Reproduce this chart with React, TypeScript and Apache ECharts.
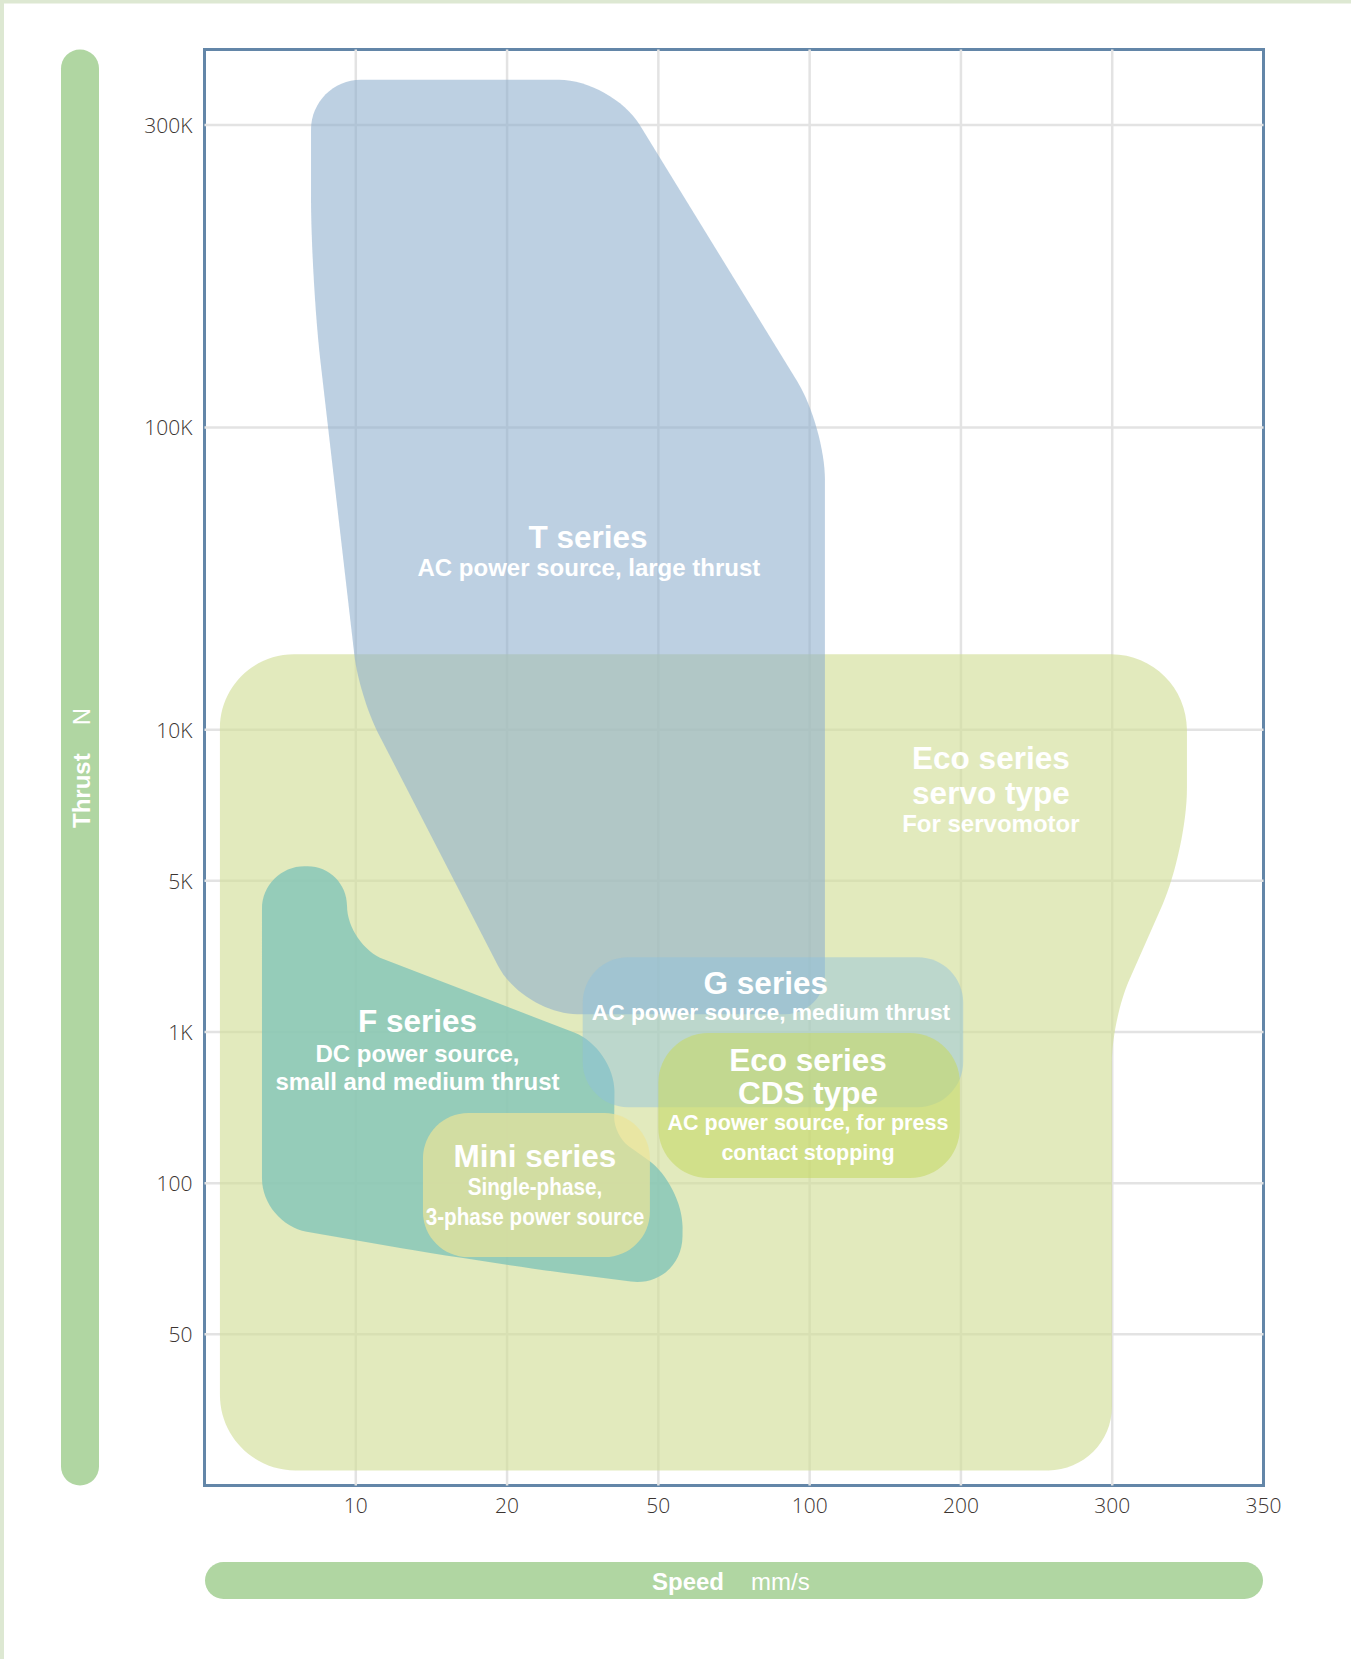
import React, { useEffect, useRef } from 'react';
import * as echarts from 'echarts';

// ---- Axes: both scales are stepped (one index unit per labelled step) ----
const speedTickLabels = ['10', '20', '50', '100', '200', '300', '350'];
const speedTickIndex = [1, 2, 3, 4, 5, 6, 7];
const thrustTickLabels = ['50', '100', '1K', '5K', '10K', '100K', '300K'];
const thrustTickIndex = [1, 2, 3, 4, 5, 7, 9];
const speedRange = [0, 7];
const thrustRange = [0, 9.5];

// ---- Series outlines: [speedIndex, thrustIndex, cornerRounding] ----
const ecoServoOutline = [
  [0.102, 5.499, 0.49],
  [6.494, 5.499, 0.5],
  [6.494, 4.209, 0.4],
  [5.998, 3.085, 0.28],
  [5.998, 0.1, 0.42],
  [0.102, 0.1, 0.5],
];
const tSeriesOutline = [
  [0.704, 9.3, 0.33],
  [2.693, 9.3, 0.35],
  [4.101, 7.007, 0.35],
  [4.101, 3.118, 0.26],
  [2.105, 3.118, 0.36],
  [1.022, 5.222, 0.27],
  [0.704, 7.977, 0.55],
];
const fSeriesOutline = [
  [0.38, 4.097, 0.3],
  [0.942, 4.097, 0.3],
  [0.942, 3.575, 0.3],
  [2.713, 2.893, 0.35],
  [2.707, 2.315, 0.12],
  [3.163, 1.987, 0.33],
  [3.156, 1.306, 0.38],
  [1.861, 1.472, 0.8],
  [0.38, 1.73, 0.3],
];
const gSeriesOutline = [
  [2.5, 3.495, 0.3],
  [5.015, 3.495, 0.3],
  [5.015, 2.503, 0.3],
  [2.5, 2.503, 0.3],
];
const miniSeriesOutline = [
  [1.444, 2.464, 0.3],
  [2.944, 2.464, 0.3],
  [2.944, 1.511, 0.3],
  [1.444, 1.511, 0.3],
];
const ecoCdsOutline = [
  [3.0, 2.993, 0.33],
  [4.993, 2.993, 0.33],
  [4.993, 2.034, 0.33],
  [3.0, 2.034, 0.33],
];

const seriesNames = ['Eco series servo type', 'T series', 'F series', 'G series', 'Mini series', 'Eco series CDS type'];
const seriesOutlines = [ecoServoOutline, tSeriesOutline, fSeriesOutline, gSeriesOutline, miniSeriesOutline, ecoCdsOutline];
const seriesFills = [
  'rgba(211,223,154,0.65)',
  'rgba(141,174,205,0.58)',
  'rgba(130,196,184,0.8)',
  'rgba(141,194,222,0.45)',
  'rgba(236,228,153,0.7)',
  'rgba(199,217,104,0.6)',
];

// ---- Labels: text, position [speedIndex, thrustIndex], kind ----
const labelTexts = [
  'T series', 'AC power source, large thrust',
  'Eco series', 'servo type', 'For servomotor',
  'F series', 'DC power source,', 'small and medium thrust',
  'G series', 'AC power source, medium thrust',
  'Eco series', 'CDS type', 'AC power source, for press', 'contact stopping',
  'Mini series', 'Single-phase,', '3-phase power source',
];
const labelAt = [
  [2.535, 6.277], [2.541, 6.075],
  [5.198, 4.812], [5.198, 4.58], [5.198, 4.382],
  [1.408, 3.072], [1.408, 2.86], [1.408, 2.675],
  [3.71, 3.323], [3.744, 3.132],
  [3.989, 2.814], [3.989, 2.596], [3.989, 2.397], [3.989, 2.199],
  [2.184, 2.179], [2.184, 1.974], [2.184, 1.776],
];
const labelKind = [
  'title', 'sub',
  'title', 'title', 'sub',
  'title', 'sub', 'sub',
  'title', 'subG',
  'title', 'title', 'subCds', 'subCds',
  'title', 'subMini', 'subMini',
];

const kindStyle: Record<string, { size: number; scaleX: number }> = {
  title: { size: 31.5, scaleX: 1 },
  sub: { size: 24, scaleX: 1 },
  subG: { size: 22.8, scaleX: 1 },
  subCds: { size: 21.5, scaleX: 1 },
  subMini: { size: 23, scaleX: 0.9 },
};

const LABEL_FONT = '"Liberation Sans", Arial, Helvetica, sans-serif';
const AXIS_FONT = '"Open Sans", "Noto Sans", sans-serif';
const PILL = '#b0d6a2';

function roundedPath(pts: number[][]): string {
  const n = pts.length;
  const K = 0.5523;
  const corners = pts.map((v, i) => {
    const p = pts[(i - 1 + n) % n];
    const q = pts[(i + 1) % n];
    const d1 = Math.hypot(p[0] - v[0], p[1] - v[1]);
    const d2 = Math.hypot(q[0] - v[0], q[1] - v[1]);
    const t = Math.min(v[2], d1 / 2, d2 / 2);
    const a = [v[0] + ((p[0] - v[0]) / d1) * t, v[1] + ((p[1] - v[1]) / d1) * t];
    const b = [v[0] + ((q[0] - v[0]) / d2) * t, v[1] + ((q[1] - v[1]) / d2) * t];
    return { v, a, b };
  });
  const f = (x: number) => x.toFixed(2);
  let d = `M${f(corners[0].a[0])},${f(corners[0].a[1])}`;
  corners.forEach((c, i) => {
    if (i > 0) d += `L${f(c.a[0])},${f(c.a[1])}`;
    const c1 = [c.a[0] + (c.v[0] - c.a[0]) * K, c.a[1] + (c.v[1] - c.a[1]) * K];
    const c2 = [c.b[0] + (c.v[0] - c.b[0]) * K, c.b[1] + (c.v[1] - c.b[1]) * K];
    d += `C${f(c1[0])},${f(c1[1])} ${f(c2[0])},${f(c2[1])} ${f(c.b[0])},${f(c.b[1])}`;
  });
  return d + 'Z';
}

export default function App() {
  const ref = useRef<HTMLDivElement>(null);

  useEffect(() => {
    const chart = echarts.init(ref.current!, null, { renderer: 'svg' });

    const gridLineStyle = { stroke: '#e3e3e3', lineWidth: 2.5 };

    const option: any = {
      animation: false,
      backgroundColor: '#ffffff',
      grid: {
        left: 204.5,
        top: 49.5,
        width: 1059,
        height: 1436,
        show: true,
        borderColor: '#6386a8',
        borderWidth: 3,
        backgroundColor: 'transparent',
      },
      xAxis: {
        type: 'value',
        min: speedRange[0],
        max: speedRange[1],
        interval: 1,
        axisLine: { show: false },
        axisTick: { show: false },
        splitLine: { show: false },
        axisLabel: {
          showMaxLabel: true,
          showMinLabel: true,
          margin: 9,
          color: '#3b3431',
          fontSize: 21,
          fontFamily: AXIS_FONT,
          fontWeight: 300,
          formatter: (v: number) => {
            const i = speedTickIndex.indexOf(Math.round(v * 100) / 100);
            return i >= 0 ? speedTickLabels[i] : '';
          },
        },
      },
      yAxis: {
        type: 'value',
        min: thrustRange[0],
        max: thrustRange[1],
        interval: 1,
        axisLine: { show: false },
        axisTick: { show: false },
        splitLine: { show: false },
        axisLabel: {
          margin: 12,
          color: '#3b3431',
          fontSize: 21,
          fontFamily: AXIS_FONT,
          fontWeight: 300,
          formatter: (v: number) => {
            const i = thrustTickIndex.indexOf(Math.round(v * 100) / 100);
            return i >= 0 ? thrustTickLabels[i] : '';
          },
        },
      },
      series: [
        {
          type: 'custom',
          name: 'speed grid',
          silent: true,
          data: speedTickIndex.filter((v) => v < speedRange[1]).map((v) => [v, thrustRange[0]]),
          renderItem: (params: any, api: any) => {
            const v = api.value(0);
            const p1 = api.coord([v, thrustRange[0]]);
            const p2 = api.coord([v, thrustRange[1]]);
            return { type: 'line', shape: { x1: p1[0], y1: p1[1], x2: p2[0], y2: p2[1] }, style: gridLineStyle };
          },
        },
        {
          type: 'custom',
          name: 'thrust grid',
          silent: true,
          data: thrustTickIndex.filter((v) => v < thrustRange[1]).map((v) => [speedRange[0], v]),
          renderItem: (params: any, api: any) => {
            const v = api.value(1);
            const p1 = api.coord([speedRange[0], v]);
            const p2 = api.coord([speedRange[1], v]);
            return { type: 'line', shape: { x1: p1[0], y1: p1[1], x2: p2[0], y2: p2[1] }, style: gridLineStyle };
          },
        },
        {
          type: 'custom',
          name: 'series areas',
          silent: true,
          data: seriesOutlines.map((o, i) => ({ name: seriesNames[i], value: [o[0][0], o[0][1]] })),
          renderItem: (params: any, api: any) => {
            const outline = seriesOutlines[params.dataIndex];
            const u = api.size([1, 0])[0];
            const pts = outline.map(([x, y, r]) => {
              const c = api.coord([x, y]);
              return [c[0], c[1], r * u];
            });
            return {
              type: 'path',
              shape: { pathData: roundedPath(pts) },
              style: { fill: seriesFills[params.dataIndex] },
            };
          },
        },
        {
          type: 'custom',
          name: 'series labels',
          silent: true,
          data: labelAt.map((p) => [p[0], p[1]]),
          renderItem: (params: any, api: any) => {
            const i = params.dataIndex;
            const c = api.coord([api.value(0), api.value(1)]);
            const ks = kindStyle[labelKind[i]];
            return {
              type: 'text',
              x: c[0],
              y: c[1],
              scaleX: ks.scaleX,
              style: {
                text: labelTexts[i],
                fill: '#ffffff',
                fontSize: ks.size,
                fontWeight: 'bold',
                fontFamily: LABEL_FONT,
                align: 'center',
                verticalAlign: 'middle',
              },
            };
          },
        },
      ],
      graphic: [
        { type: 'rect', silent: true, shape: { x: 0, y: 0, width: 1351, height: 3.5 }, style: { fill: '#dde8d2' } },
        { type: 'rect', silent: true, shape: { x: 0, y: 0, width: 4, height: 1659 }, style: { fill: '#dde8d2' } },
        { type: 'rect', silent: true, shape: { x: 61, y: 49.5, width: 38, height: 1436, r: 19 }, style: { fill: PILL } },
        {
          type: 'group',
          x: 81,
          y: 768,
          rotation: Math.PI / 2,
          children: [
            {
              type: 'text',
              x: -60,
              y: 0,
              style: { text: 'Thrust', fill: '#fff', fontSize: 24, fontWeight: 'bold', fontFamily: LABEL_FONT, align: 'left', verticalAlign: 'middle' },
            },
            {
              type: 'text',
              x: 60,
              y: 0,
              style: { text: 'N', fill: '#fff', fontSize: 24, fontWeight: 'normal', fontFamily: LABEL_FONT, align: 'right', verticalAlign: 'middle' },
            },
          ],
        },
        { type: 'rect', silent: true, shape: { x: 205, y: 1562, width: 1058, height: 37, r: 18.5 }, style: { fill: PILL } },
        {
          type: 'text',
          x: 724,
          y: 1581,
          style: { text: 'Speed', fill: '#fff', fontSize: 24, fontWeight: 'bold', fontFamily: LABEL_FONT, align: 'right', verticalAlign: 'middle' },
        },
        {
          type: 'text',
          x: 751,
          y: 1581,
          style: { text: 'mm/s', fill: '#fff', fontSize: 24, fontWeight: 'normal', fontFamily: LABEL_FONT, align: 'left', verticalAlign: 'middle' },
        },
      ],
    };

    chart.setOption(option);
    return () => chart.dispose();
  }, []);

  return (
    <div
      ref={ref}
      style={{ position: 'absolute', left: 0, top: 0, width: 1351, height: 1659, background: '#ffffff' }}
    />
  );
}
